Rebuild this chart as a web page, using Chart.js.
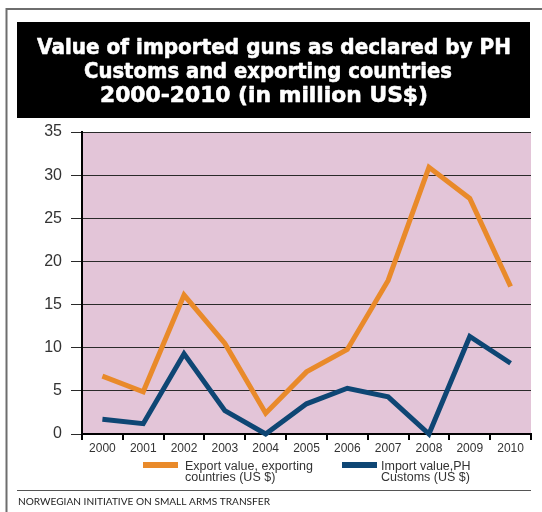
<!DOCTYPE html>
<html><head><meta charset="utf-8">
<script src="https://cdn.jsdelivr.net/npm/chart.js@4.4.1/dist/chart.umd.min.js"></script>
<style>html,body{margin:0;padding:0;background:#fff;}#wrap{position:relative;width:542px;height:512px;}canvas{display:block;}</style>
</head><body><div id="wrap"><canvas id="c" width="542" height="512"></canvas></div>
<script>
const years = ['2000','2001','2002','2003','2004','2005','2006','2007','2008','2009','2010'];
const exportValues = [6.7, 4.9, 16.1, 10.5, 2.4, 7.2, 9.8, 17.8, 30.9, 27.3, 17.1];
const importValues = [1.7, 1.2, 9.3, 2.7, 0, 3.5, 5.3, 4.3, 0, 11.3, 8.2];
const yMin = 0, yMax = 35, yStep = 5;
const titleLines = ['Value of imported guns as declared by PH', 'Customs and exporting countries', '2000-2010 (in million US$)'];
const exportLabel = ['Export value, exporting', 'countries (US $)'];
const importLabel = ['Import value,PH', 'Customs (US $)'];
const sourceText = 'NORWEGIAN INITIATIVE ON SMALL ARMS TRANSFER';

const ORANGE = '#e98a2a', BLUE = '#0e4674', PINK = '#e3c5d8';

const decor = {
  id: 'decor',
  beforeDraw(chart) {
    const ctx = chart.ctx, a = chart.chartArea;
    ctx.save();
    ctx.fillStyle = '#fff';
    ctx.fillRect(0, 0, chart.width, chart.height);
    ctx.fillStyle = PINK;
    ctx.fillRect(a.left, a.top, a.right - a.left, a.bottom - a.top);
    // frame
    ctx.strokeStyle = '#6e6e6e'; ctx.lineWidth = 2;
    ctx.beginPath(); ctx.moveTo(542, 9); ctx.lineTo(6.5, 9); ctx.lineTo(6.5, 512); ctx.stroke();
    // title box
    ctx.fillStyle = '#000';
    ctx.fillRect(17, 22, 513, 96);
    ctx.fillStyle = '#fff';
    ctx.strokeStyle = '#fff'; ctx.lineWidth = 0.6; ctx.lineJoin = 'round';
    ctx.font = 'bold 22px "DejaVu Sans"';
    ctx.textAlign = 'center'; ctx.textBaseline = 'alphabetic';
    const centers = [274, 268, 264], widths = [474, 368, 328], bases = [54, 78, 102];
    titleLines.forEach((t, i) => {
      const w = ctx.measureText(t).width;
      ctx.save();
      ctx.translate(centers[i], bases[i]);
      ctx.scale(widths[i] / w, 1);
      ctx.fillText(t, 0, 0);
      ctx.strokeText(t, 0, 0);
      ctx.restore();
    });
    ctx.restore();
  },
  afterDraw(chart) {
    const ctx = chart.ctx;
    ctx.save();
    const ds = chart.data.datasets;
    const items = [[143, 185, ds[0].borderColor, exportLabel], [342, 381, ds[1].borderColor, importLabel]];
    ctx.font = '12.5px "Liberation Sans"';
    ctx.textAlign = 'left'; ctx.textBaseline = 'alphabetic';
    items.forEach(([bx, tx, col, lines]) => {
      ctx.fillStyle = col;
      ctx.fillRect(bx, 462, 35, 6);
      ctx.fillStyle = '#333';
      lines.forEach((l, i) => ctx.fillText(l, tx, 469.5 + i * 11));
    });
    // separator
    ctx.strokeStyle = '#555'; ctx.lineWidth = 1;
    ctx.beginPath(); ctx.moveTo(17, 490.5); ctx.lineTo(531, 490.5); ctx.stroke();
    ctx.fillStyle = '#222';
    ctx.font = '10px Lato';
    const w = ctx.measureText(sourceText).width;
    ctx.save(); ctx.translate(18, 504.5); ctx.scale(252 / w, 1); ctx.fillText(sourceText, 0, 0); ctx.restore();
    ctx.restore();
  }
};

new Chart(document.getElementById('c'), {
  type: 'line',
  data: {
    labels: years,
    datasets: [
      { label: exportLabel.join(' '), data: exportValues, borderColor: ORANGE, backgroundColor: ORANGE, borderWidth: 5, pointRadius: 0, tension: 0, fill: false, borderJoinStyle: 'miter', clip: false },
      { label: importLabel.join(' '), data: importValues, borderColor: BLUE, backgroundColor: BLUE, borderWidth: 5, pointRadius: 0, tension: 0, fill: false, borderJoinStyle: 'miter', clip: false }
    ]
  },
  options: {
    responsive: false, animation: false, devicePixelRatio: 1,
    layout: { padding: { left: 0, right: 11, top: 132, bottom: 58 } },
    plugins: { legend: { display: false }, title: { display: false }, tooltip: { enabled: false } },
    scales: {
      x: {
        type: 'category', offset: true,
        grid: { offset: true, drawOnChartArea: false, drawTicks: true, tickLength: 6, color: '#000', lineWidth: 2 },
        border: { color: '#000', width: 2 },
        ticks: { font: { family: 'Liberation Sans', size: 12 }, color: '#333', padding: 1, maxRotation: 0, autoSkip: false },
        afterFit(s) { s.height = 20; }
      },
      y: {
        min: yMin, max: yMax,
        grid: { color: '#2a2a2a', lineWidth: 1, tickLength: 11, drawTicks: true },
        border: { color: '#000', width: 2 },
        ticks: { stepSize: yStep, font: { family: 'Liberation Sans', size: 16 }, color: '#333', padding: 9 },
        afterFit(s) { s.width = 82; }
      }
    }
  },
  plugins: [decor]
});
</script></body></html>
